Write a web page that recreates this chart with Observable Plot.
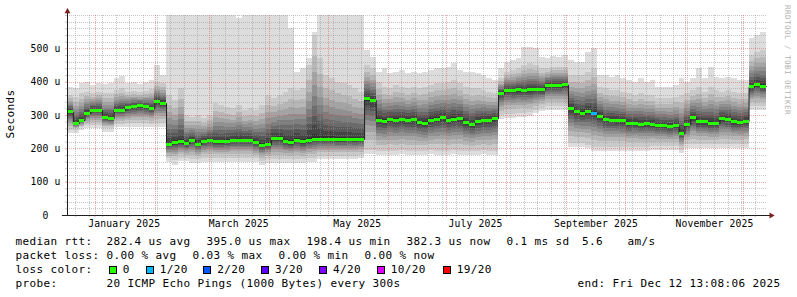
<!DOCTYPE html>
<html><head><meta charset="utf-8">
<script src="https://cdn.jsdelivr.net/npm/d3@7"></script>
<script src="https://cdn.jsdelivr.net/npm/@observablehq/plot@0.6"></script>
<style>
html,body{margin:0;padding:0;background:#fff;}
#wrap{position:relative;width:797px;height:297px;overflow:hidden;font-family:"DejaVu Sans Mono",monospace;color:#000;background:#fff;}
#chart{position:absolute;left:0;top:0;}
.t{position:absolute;white-space:pre;font-size:11px;letter-spacing:0.38px;line-height:14px;}
.box{position:absolute;width:8px;height:8px;box-sizing:border-box;border:1px solid #000;}
</style></head><body><div id="wrap"><div id="chart"></div></div>
<script>
// ---- data (3-day bins, values in microseconds) ----
const med = [310,275,285,305,315,315,292,290,315,315,
 322,325,328,325,320,340,336,212,218,220,
 215,225,213,222,225,220,220,222,225,225,
 225,225,218,210,212,230,230,222,218,225,
 220,224,228,228,228,228,226,226,228,226,
 228,350,345,285,282,287,285,286,284,286,
 277,276,285,288,292,284,288,290,278,272,
 280,285,285,290,365,375,374,376,374,376,
 378,376,388,390,390,391,320,310,306,310,
 306,296,286,285,284,283,275,276,273,274,
 272,270,268,266,268,245,272,292,280,280,
 276,276,290,288,280,278,282,385,393,387];
const lo = [246,246,255,261,261,261,250,250,265,265,
 265,265,265,265,265,265,265,158,150,162,
 162,155,155,160,160,160,160,160,160,160,
 160,160,158,150,156,156,156,156,156,156,
 156,160,160,167,167,167,167,167,167,167,
 170,183,183,181,180,181,180,182,181,180,
 181,180,182,181,180,181,182,180,181,180,
 181,182,181,181,288,292,292,295,295,298,
 305,312,315,315,315,315,205,205,205,200,
 193,193,193,193,193,193,193,193,193,193,
 195,195,195,195,195,185,202,202,202,202,
 202,202,202,202,202,202,202,315,315,315];
const lo2 = [256,256,264,270,270,270,260,260,274,274,
 275,275,276,275,274,276,276,170,165,172,
 172,168,168,172,172,172,172,172,172,172,
 172,172,170,162,168,168,168,168,168,168,
 168,172,172,178,178,178,178,178,178,178,
 180,195,195,192,192,193,192,194,193,192,
 193,192,194,193,192,193,194,192,193,192,
 193,194,193,193,300,304,304,306,306,308,
 315,322,326,326,326,326,216,216,216,210,
 205,205,205,205,205,205,205,205,205,205,
 207,207,207,207,207,196,213,213,213,213,
 213,213,213,213,213,213,213,326,326,326];
const hi2 = [360,355,365,370,365,370,365,365,375,380,
 370,372,368,372,378,400,395,360,345,380,
 300,295,300,290,300,335,330,325,320,330,
 315,320,315,330,360,350,360,370,380,375,
 380,450,540,470,420,410,400,395,390,380,
 370,450,440,400,385,380,390,385,380,385,
 380,385,390,395,395,400,405,395,385,380,
 380,375,370,365,410,430,435,440,450,455,
 450,440,440,445,445,445,420,420,420,430,
 440,385,380,375,375,370,365,360,365,360,
 360,350,350,350,355,360,365,375,385,370,
 385,375,370,375,370,365,365,480,490,495];
const hi = [385,380,395,400,390,395,392,395,410,418,
 395,400,392,400,405,450,420,600,600,600,
 600,600,600,600,600,600,600,600,600,590,
 600,600,600,600,600,600,600,600,560,430,
 440,470,550,600,600,600,600,600,600,600,
 600,495,475,430,440,425,430,435,425,430,
 425,430,435,440,440,445,455,435,430,430,
 425,420,410,405,440,460,465,470,505,505,
 500,475,470,478,475,480,465,460,460,490,
 500,420,420,415,420,410,405,400,410,400,
 405,385,385,385,390,410,400,410,440,410,
 445,415,410,415,410,405,405,530,540,550];
const loss = [0,0,0,0,0,0,0,0,0,0, 0,0,0,0,0,0,0,0,0,0,
 0,0,0,0,0,0,0,0,0,0, 0,0,0,0,0,0,0,0,0,0,
 0,0,0,0,0,0,0,0,0,0, 0,0,0,0,0,0,0,0,0,0,
 0,0,0,0,0,0,0,0,0,0, 0,0,0,0,0,0,0,0,0,0,
 0,0,0,0,0,0,0,0,0,0, 1,0,0,0,0,0,0,0,0,0,
 0,0,0,0,0,0,0,0,0,0, 0,0,0,0,0,0,0,0,0,0];

const yTickValues = [0,100,200,300,400,500];
const xLabelDates = ["2025-01-16","2025-03-16","2025-05-16","2025-07-16","2025-09-16","2025-11-16"];
const lossLabels = ["0","1/20","2/20","3/20","4/20","10/20","19/20"];
const lossColors = ["#26ff00","#00b8ff","#0059ff","#5e00ff","#7e00ff","#dd00ff","#ff0000"];
const lossMin = [0,1,2,3,4,10,19];
const rttStats = ["282.4 us avg","395.0 us max","198.4 us min","382.3 us now","0.1 ms sd","5.6","am/s"];
const lossStats = ["0.00 % avg","0.03 % max","0.00 % min","0.00 % now"];
const probeText = "20 ICMP Echo Pings (1000 Bytes) every 300s";
const endText = "end: Fri Dec 12 13:08:06 2025";

// ---- setup ----
const startDate = new Date(Date.UTC(2024,11,17,20,0));
const endDate = new Date(Date.UTC(2025,11,13,8,0));
const DAY = 864e5, binDays = 3;
const binStart = i => new Date(+startDate + i*binDays*DAY);
const lossIdx = n => { let k = 0; lossMin.forEach((m,j)=>{ if (n >= m) k = j; }); return k; };
const rows = med.map((m,i)=>({start: binStart(i), end: binStart(i+1), med: m, lo: lo[i], lo2: lo2[i], hi2: hi2[i], hi: hi[i], loss: loss[i]}));
const lineRows = rows.concat([{start: rows[rows.length-1].end, med: med[med.length-1]}]);

const smokeGreys = ["#dddddd","#cacaca","#b7b7b7","#a4a4a4","#919191","#7e7e7e","#6b6b6b","#585858","#454545","#323232"];
const spread = [1,1,0.80,0.646,0.524,0.417,0.315,0.222,0.131,0.044];
const gridCol = "rgba(143,143,143,0.5)";
const majorCol = "rgba(222,79,79,0.5)";
const axisCol = "rgb(31,31,31)";
const arrowCol = "rgb(128,31,31)";

const smoke = smokeGreys.map((g,k)=>Plot.rect(rows, {
  x1: "start", x2: "end",
  y1: k===0 ? "lo" : d => d.med - spread[k]*(d.med - d.lo2),
  y2: k===0 ? "hi" : d => d.med + spread[k]*(d.hi2 - d.med),
  fill: g, shapeRendering: "crispEdges"
}));

const minorY = d3.range(20, 601, 20).filter(v => v % 100 !== 0 || v === 600);
const majorY = [100,200,300,400,500];
const months = d3.utcMonth.range(startDate, endDate);
const weeks = d3.utcSunday.range(startDate, endDate).filter(w => !months.some(m => Math.abs(m - w) < DAY));
const labelDates = xLabelDates.map(s => new Date(s + "T00:00Z"));

const chart = Plot.plot({
  width: 797, height: 230,
  marginLeft: 67, marginRight: 30, marginTop: 15, marginBottom: 15,
  x: {type: "utc", domain: [startDate, endDate]},
  y: {type: "linear", domain: [0, 600]},
  color: {type: "identity"},
  style: {fontFamily: '"DejaVu Sans Mono", monospace', fontSize: "9.72px", letterSpacing: "0.15px", color: "#000", background: "#fff", overflow: "visible"},
  marks: [
    ...smoke,
    Plot.ruleY(minorY, {stroke: gridCol, strokeDasharray: "1,1", shapeRendering: "crispEdges"}),
    Plot.ruleX(weeks, {stroke: gridCol, strokeDasharray: "1,1", shapeRendering: "crispEdges"}),
    Plot.ruleY(majorY, {stroke: majorCol, strokeDasharray: "1,1", shapeRendering: "crispEdges"}),
    Plot.ruleX(months, {stroke: majorCol, strokeDasharray: "1,1", shapeRendering: "crispEdges"}),
    Plot.line(lineRows, {x: "start", y: "med", curve: "step-after", stroke: "#202020", strokeWidth: 1}),
    Plot.rect(rows, {x1: "start", x2: "end", y1: d => d.med - 4.5, y2: d => d.med + 4.5, fill: d => lossColors[lossIdx(d.loss)], shapeRendering: "crispEdges"}),
    Plot.axisY({ticks: minorY.concat([0]), tickSize: 2, fill: "none", stroke: gridCol, label: null}),
    Plot.axisY({ticks: majorY, tickSize: 2, fill: "none", stroke: majorCol, label: null}),
    Plot.axisY({ticks: yTickValues, tickSize: 0, tickPadding: 7, label: null,
      tickFormat: d => d === 0 ? "0\u00a0\u00a0" : `${d} u`}),
    Plot.axisX({ticks: weeks, tickSize: 2, fill: "none", stroke: gridCol, label: null}),
    Plot.axisX({ticks: months, tickSize: 2, fill: "none", stroke: majorCol, label: null}),
    Plot.axisX({ticks: labelDates, tickSize: 0, tickPadding: 5, label: null, tickFormat: d3.utcFormat("%B %Y")}),
    Plot.ruleY([0], {x1: new Date(+startDate - 2.6*DAY), x2: new Date(+endDate + 1.6*DAY), stroke: axisCol}),
    Plot.ruleX([startDate], {y1: 0, y2: 612, stroke: axisCol}),
    Plot.dot([{x: startDate, y: 612}], {x: "x", y: "y", symbol: "triangle", r: 2.2, fill: arrowCol, stroke: "none"}),
    Plot.dot([{x: new Date(+endDate + 1.9*DAY), y: 0}], {x: "x", y: "y", symbol: "triangle", r: 2.2, rotate: 90, fill: arrowCol, stroke: "none"})
  ]
});
document.getElementById("chart").appendChild(chart);

// ---- text outside the plot ----
const W = document.getElementById("wrap");
function addText(str, left, baseline, extra) {
  const s = document.createElement("div");
  s.className = "t"; s.textContent = str;
  s.style.left = left + "px"; s.style.top = (baseline - 10.8) + "px";
  if (extra) Object.assign(s.style, extra);
  W.appendChild(s); return s;
}
const b1 = 245.3, b2 = 259.3, b3 = 273.3, b4 = 287.3;
addText("median rtt:", 15.5, b1);
[106.5, 206.5, 306.5, 406.5, 506.5, 582, 627.5].forEach((x,i)=>addText(rttStats[i], x, b1));
addText("packet loss:", 15.5, b2);
[106.5, 192.5, 278.5, 364.5].forEach((x,i)=>addText(lossStats[i], x, b2));
addText("loss color:", 15.5, b3);
const boxX = [108.7, 145.7, 203.3, 261, 319, 376.7, 442.7];
lossLabels.forEach((lab,i)=>{
  const b = document.createElement("div");
  b.className = "box"; b.style.left = boxX[i] + "px"; b.style.top = "265.5px"; b.style.background = lossColors[i];
  W.appendChild(b);
  addText(lab, boxX[i] + 14, b3);
});
addText("probe:", 15.5, b4);
addText(probeText, 106.5, b4);
const e = addText(endText, 0, b4); e.style.left = ""; e.style.right = "16.5px";

// vertical unit label
const sec = document.createElement("div");
sec.className = "t"; sec.textContent = "Seconds";
Object.assign(sec.style, {left: "11.2px", top: "113.7px", transform: "translate(-50%,-50%) rotate(-90deg)"});
W.appendChild(sec);
// watermark
const wm = document.createElement("div");
wm.textContent = "RRDTOOL / TOBI OETIKER";
Object.assign(wm.style, {position: "absolute", whiteSpace: "pre", fontSize: "7.6px", letterSpacing: "0.42px", lineHeight: "10px", color: "#b3b3b3",
  left: "787.1px", top: "60px", transform: "translate(-50%,-50%) rotate(90deg)"});
W.appendChild(wm);
</script></body></html>
